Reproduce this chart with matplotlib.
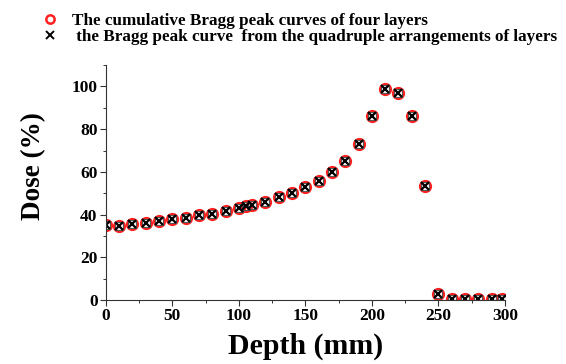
import numpy as np
import matplotlib
matplotlib.use('Agg')
import matplotlib.pyplot as plt
from matplotlib.lines import Line2D
from matplotlib.ticker import MultipleLocator

matplotlib.rcParams.update({'font.family': 'Liberation Serif',
                            'font.weight': 'bold',
                            'font.size': 12})

# depth (mm) and relative dose (%)
depth = [0, 10, 20, 30, 40, 50, 60, 70, 80, 90, 100, 105, 110, 120, 130, 140,
         150, 160, 170, 180, 190, 200, 210, 220, 230, 240, 250, 260, 270, 280,
         290, 298]
dose_cumulative = [35.0, 34.7, 35.5, 36.1, 36.8, 37.7, 38.6, 39.6, 40.3, 41.7,
                   43.1, 43.9, 44.7, 46.1, 48.1, 50.0, 52.7, 55.8, 59.8, 65.0,
                   73.2, 86.4, 98.9, 96.9, 86.4, 53.3, 2.8, 0.6, 0.6, 0.5, 0.5,
                   0.5]
dose_quadruple = [35.0, 34.7, 35.5, 36.1, 36.8, 37.7, 38.6, 39.6, 40.3, 41.7,
                  43.1, 43.9, 44.7, 46.1, 48.1, 50.0, 52.7, 55.8, 59.8, 65.0,
                  73.2, 86.4, 98.9, 96.9, 86.4, 53.3, 2.8, 0.6, 0.6, 0.5, 0.5,
                  0.5]

labels = ['The cumulative Bragg peak curves of four layers',
          ' the Bragg peak curve  from the quadruple arrangements of layers']

fig = plt.figure(figsize=(5.66, 3.64), dpi=100)
ax = fig.add_axes([0.187, 0.176, 0.705, 0.645])

ax.plot(depth, dose_cumulative, 'o', ms=7.5, mfc='none', mec='#ff2020', mew=2.0)
ax.plot(depth, dose_quadruple, 's', ms=6.0, mfc='none', mec='#555555', mew=0.8)
ax.plot(depth, dose_quadruple, 'x', ms=5.5, color='black', mew=1.6)

ax.set_xlim(0, 300)
ax.set_ylim(0, 110)
ax.xaxis.set_major_locator(MultipleLocator(50))
ax.xaxis.set_minor_locator(MultipleLocator(25))
ax.yaxis.set_major_locator(MultipleLocator(20))
ax.yaxis.set_minor_locator(MultipleLocator(10))
ax.spines['top'].set_visible(False)
ax.spines['right'].set_visible(False)
for s in ('left', 'bottom'):
    ax.spines[s].set_color('#333333')
    ax.spines[s].set_linewidth(0.8)
ax.tick_params(which='major', direction='out', length=4, width=0.8,
               color='#333333', labelsize=12.5, pad=2)
ax.tick_params(which='minor', direction='out', length=2.5, width=0.7,
               color='#333333')

ax.set_xlabel('Depth (mm)', fontsize=21.5, fontweight='bold', labelpad=6)
ax.set_ylabel('Dose (%)', fontsize=19.5, fontweight='bold')
ax.yaxis.set_label_coords(-0.15, 0.57)

handles = [Line2D([], [], ls='none', marker='o', ms=6, mfc='none',
                  mec='#ff2020', mew=1.8),
           Line2D([], [], ls='none', marker='x', ms=6, color='black', mew=1.4)]
fig.legend(handles, labels, loc='upper left', bbox_to_anchor=(0.05, 1.0),
           frameon=False, fontsize=12.3, handlelength=1.0, handletextpad=0.8,
           labelspacing=0.0, borderaxespad=0.35)

fig.savefig('out.png', dpi=100)
